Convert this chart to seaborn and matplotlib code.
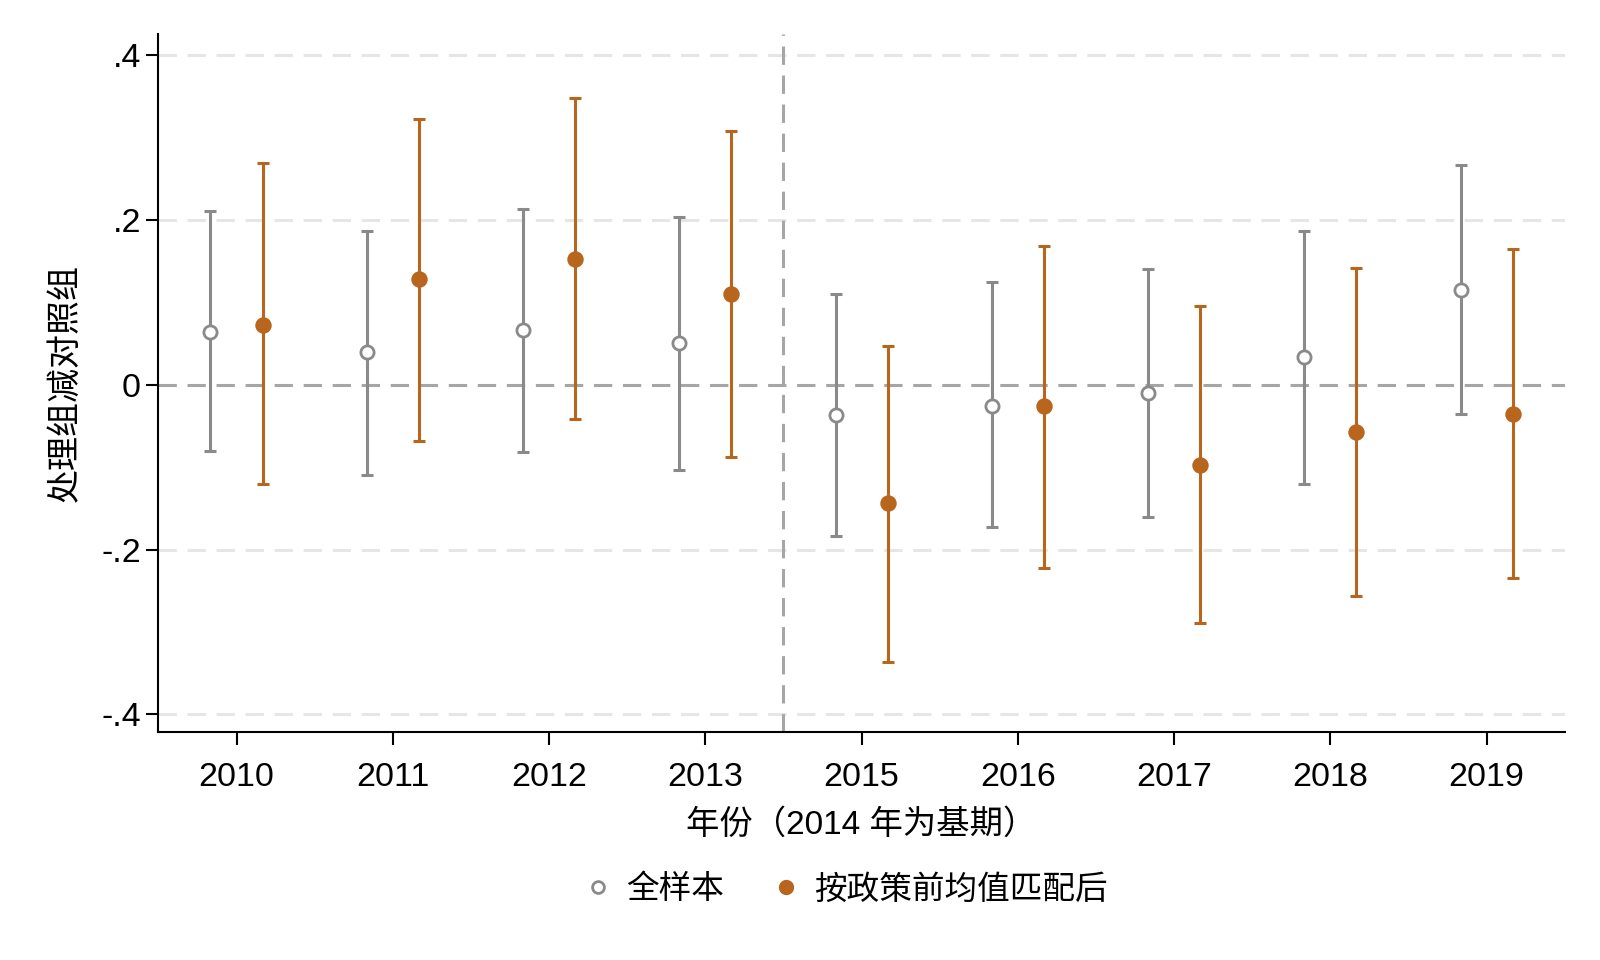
import numpy as np
import pandas as pd
import seaborn as sns
import matplotlib.pyplot as plt
from matplotlib.lines import Line2D

years = ['2010', '2011', '2012', '2013', '2015', '2016', '2017', '2018', '2019']

# 全样本
full_coef = [0.064, 0.040, 0.066, 0.051, -0.037, -0.026, -0.010, 0.033, 0.115]
full_lo = [-0.080, -0.109, -0.082, -0.103, -0.183, -0.173, -0.161, -0.120, -0.036]
full_hi = [0.211, 0.187, 0.213, 0.204, 0.110, 0.124, 0.140, 0.187, 0.267]

# 按政策前均值匹配后
match_coef = [0.073, 0.128, 0.152, 0.110, -0.144, -0.026, -0.098, -0.058, -0.036]
match_lo = [-0.121, -0.068, -0.042, -0.088, -0.336, -0.222, -0.289, -0.256, -0.235]
match_hi = [0.269, 0.322, 0.348, 0.308, 0.047, 0.168, 0.095, 0.141, 0.165]

sns.set_style('white')
plt.rcParams['font.family'] = ['Liberation Sans', 'Noto Sans CJK SC']
plt.rcParams['axes.unicode_minus'] = False
plt.rcParams['text.color'] = 'black'
plt.rcParams['axes.labelcolor'] = 'black'
plt.rcParams['xtick.color'] = 'black'
plt.rcParams['ytick.color'] = 'black'

gray = '#8a8a8a'
orange = '#b8661e'

df = pd.concat([
    pd.DataFrame({'year': years, 'coef': full_coef, 'lo': full_lo, 'hi': full_hi,
                  'group': '全样本', 'offset': -1 / 6}),
    pd.DataFrame({'year': years, 'coef': match_coef, 'lo': match_lo, 'hi': match_hi,
                  'group': '按政策前均值匹配后', 'offset': 1 / 6}),
])
df['x'] = df['year'].map({y: i for i, y in enumerate(years)}) + df['offset']

fig, ax = plt.subplots(figsize=(16, 9.6), dpi=100)
fig.subplots_adjust(left=0.099, right=0.978, bottom=0.237, top=0.965)

# reference lines
dash = (0, (6, 3.5))
for yv in [-0.4, -0.2, 0.2, 0.4]:
    ax.axhline(yv, color='#e6e6e6', lw=2.2, ls=dash, zorder=0)
ax.axhline(0, color='#a6a6a6', lw=2.2, ls=dash, zorder=1)
ax.axvline(3.5, color='#a6a6a6', lw=2.2, ls=dash, zorder=1)

styles = {'全样本': gray, '按政策前均值匹配后': orange}
for g, sub in df.groupby('group', sort=False):
    col = styles[g]
    ax.errorbar(sub['x'], sub['coef'],
                yerr=[sub['coef'] - sub['lo'], sub['hi'] - sub['coef']],
                fmt='none', ecolor=col, elinewidth=2.2, capsize=4.5, capthick=2.2, zorder=2)
sns.scatterplot(data=df[df['group'] == '全样本'], x='x', y='coef', ax=ax,
                marker='o', s=90, facecolor='white', edgecolor=gray, linewidth=2, zorder=3)
sns.scatterplot(data=df[df['group'] == '按政策前均值匹配后'], x='x', y='coef', ax=ax,
                marker='o', s=140, color=orange, edgecolor=orange, linewidth=0, zorder=3)

ax.set_xlim(-0.5, 8.5)
ax.set_ylim(-0.422, 0.426)
ax.set_xticks(range(len(years)))
ax.set_xticklabels(years)
ax.set_yticks([-0.4, -0.2, 0, 0.2, 0.4])
ax.set_yticklabels(['-.4', '-.2', '0', '.2', '.4'])
ax.tick_params(axis='both', labelsize=24.5, length=9, width=1.5, direction='out',
               bottom=True, left=True, color='black', labelcolor='black')
ax.tick_params(axis='x', pad=12)

sns.despine(ax=ax)
for s in ['left', 'bottom']:
    ax.spines[s].set_linewidth(1.5)
    ax.spines[s].set_color('black')

ax.set_xlabel('年份（2014 年为基期）', fontsize=24, labelpad=12, color='black')
ax.set_ylabel('处理组减对照组', fontsize=24.5, labelpad=14, color='black')

handles = [
    Line2D([], [], ls='none', marker='o', ms=8.5, mfc='white', mec=gray, mew=2),
    Line2D([], [], ls='none', marker='o', ms=10, mfc=orange, mec=orange),
]
fig.legend(handles, ['全样本', '按政策前均值匹配后'], loc='center', ncol=2,
           bbox_to_anchor=(0.527, 0.073), frameon=False, fontsize=23.5,
           handletextpad=0.25, columnspacing=1.3, handlelength=1.2)

fig.savefig('out.png', dpi=100)
